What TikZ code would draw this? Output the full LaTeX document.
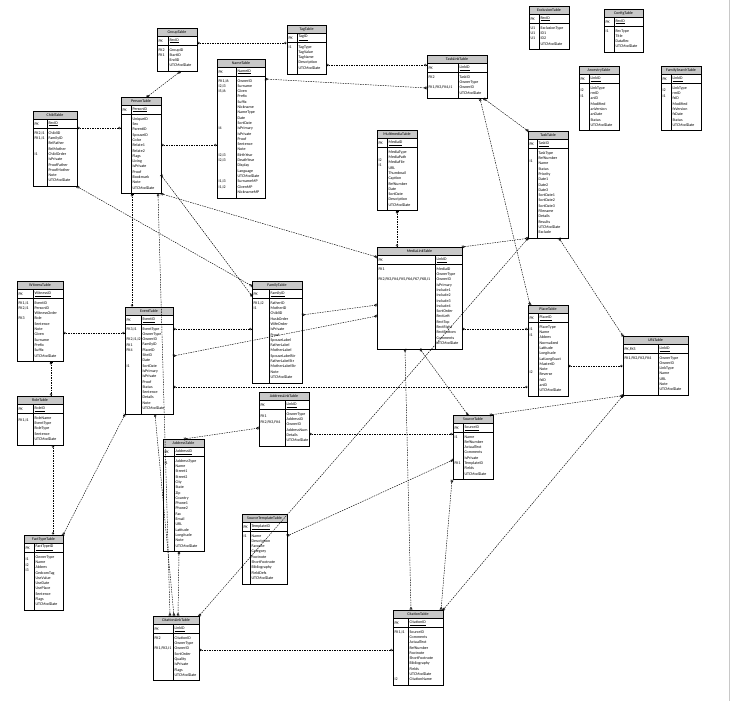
\documentclass[tikz,border=0pt]{standalone}
\usepackage{fontspec}
\setmainfont{Carlito}
\usetikzlibrary{arrows.meta,calc}
\definecolor{hdrgray}{RGB}{200,200,200}
\definecolor{framegray}{RGB}{200,200,200}
\tikzset{
  tblbox/.style={draw=black, line width=0.9pt, fill=white, inner sep=0pt, outer sep=0pt},
  hdrbox/.style={draw=black, line width=0.5pt, fill=hdrgray, inner sep=0pt, outer sep=0pt, font=\fontsize{4}{5}\selectfont},
  celltxt/.style={inner sep=0pt, outer sep=0pt, align=left, font=\fontsize{4}{5.3}\selectfont},
  rel/.style={line width=0.45pt, dash pattern=on 1.5pt off 1pt,
    {Bar[width=3pt,line width=0.45pt]Circle[open,length=2.4pt,width=2.4pt,line width=0.45pt]}-{Circle[open,length=2.4pt,width=2.4pt,line width=0.45pt]Bar[width=3pt,line width=0.45pt]}},
}
\newcommand\erTable[9]{%
  \pgfmathsetmacro\erH{17.5+#6*5.3+5}%
  \node[tblbox, minimum width=#4pt, minimum height=\erH pt, anchor=north west] (#1) at (#2,#3) {};
  \node[hdrbox, minimum width=#4pt, minimum height=8.5pt, anchor=north west] (#1-h) at (#2,#3) {#7};
  \node[celltxt, anchor=west] (#1-pk) at (#2+1.6,#3+13) {#8};
  \node[celltxt, anchor=west] (#1-pf) at (#2+#5+1.6,#3+13) {\underline{#9}};
  \draw[line width=0.5pt] (#2,#3+17.5) -- (#2+#4,#3+17.5);
  \draw[line width=0.5pt] (#2+#5,#3+8.5) -- (#2+#5,#3+\erH);
  \xdef\erX{#2}\xdef\erY{#3}\xdef\erKW{#5}%
}
\newcommand\erBody[3]{%
  \node[celltxt, anchor=north west] (#1-k) at (\erX+1.6,\erY+20.5) {#2};
  \node[celltxt, anchor=north west] (#1-f) at (\erX+\erKW+1.6,\erY+20.5) {#3};
}
\begin{document}
\begin{tikzpicture}[x=1pt,y=-1pt]
\fill[white] (0,0) rectangle (733,701);
\useasboundingbox (0,0) rectangle (733,701);
\draw[framegray, line width=0.6pt] (729.5,0) -- (729.5,701);

\erTable{group}{157}{28}{40}{11}{4}{GroupTable}{PK}{RecID}
\erBody{group}{FK2\\FK1}{GroupID\\StartID\\EndID\\UTCModDate}

\erTable{tag}{287}{25}{39}{10}{5}{TagTable}{PK}{TagID}
\erBody{tag}{I1}{TagType\\TagValue\\TagName\\Description\\UTCModDate}

\erTable{name}{217}{59}{48}{19}{22}{NameTable}{PK}{NameID}
\erBody{name}{FK1,I6\\I2,I3\\I5,I6\\~\\~\\~\\~\\~\\~\\I4\\~\\~\\~\\~\\I2,I3\\I2,I3\\~\\~\\~\\I1,I3\\I1,I2}{OwnerID\\Surname\\Given\\Prefix\\Suffix\\Nickname\\NameType\\Date\\SortDate\\IsPrimary\\IsPrivate\\Proof\\Sentence\\Note\\BirthYear\\DeathYear\\Display\\Language\\UTCModDate\\SurnameMP\\GivenMP\\NicknameMP}

\erTable{exclusion}{529}{6}{40}{10}{4}{ExclusionTable}{PK}{RecID}
\erBody{exclusion}{U1\\U1\\U1}{ExclusionType\\ID1\\ID2\\UTCModDate}

\erTable{config}{604}{9}{39}{10}{4}{ConfigTable}{PK}{RecID}
\erBody{config}{I1}{RecType\\Title\\DataRec\\UTCModDate}

\erTable{tasklink}{427}{55}{60}{31}{4}{TaskLinkTable}{PK}{LinkID}
\erBody{tasklink}{FK2\\~\\FK1,FK3,FK4,I1}{TaskID\\OwnerType\\OwnerID\\UTCModDate}

\erTable{ancestry}{579}{66}{40}{10}{8}{AncestryTable}{PK}{LinkID}
\erBody{ancestry}{~\\I2\\I1}{LinkType\\rmID\\anID\\Modified\\anVersion\\anDate\\Status\\UTCModDate}

\erTable{familysearch}{661}{66}{40}{10}{8}{FamilySearchTable}{PK}{LinkID}
\erBody{familysearch}{~\\I2\\I1}{LinkType\\rmID\\fsID\\Modified\\fsVersion\\fsDate\\Status\\UTCModDate}

\erTable{child}{33}{111}{44}{14}{10}{ChildTable}{PK}{RecID}
\erBody{child}{FK2,I1\\FK1,I1\\~\\~\\I1}{ChildID\\FamilyID\\RelFather\\RelMother\\ChildOrder\\IsPrivate\\ProofFather\\ProofMother\\Note\\UTCModDate}

\erTable{person}{121}{97}{40}{10}{14}{PersonTable}{PK}{PersonID}
\erBody{person}{~}{UniqueID\\Sex\\ParentID\\SpouseID\\Color\\Relate1\\Relate2\\Flags\\Living\\IsPrivate\\Proof\\Bookmark\\Note\\UTCModDate}

\erTable{multimedia}{377}{130}{40}{10}{11}{MultimediaTable}{PK}{MediaID}
\erBody{multimedia}{~\\~\\I2\\I1}{MediaType\\MediaPath\\MediaFile\\URL\\Thumbnail\\Caption\\RefNumber\\Date\\SortDate\\Description\\UTCModDate}

\erTable{task}{528}{131}{40}{9}{16}{TaskTable}{PK}{TaskID}
\erBody{task}{~\\~\\I1}{TaskType\\RefNumber\\Name\\Status\\Priority\\Date1\\Date2\\Date3\\SortDate1\\SortDate2\\SortDate3\\Filename\\Details\\Results\\UTCModDate\\Exclude}

\erTable{medialink}{377}{247}{85}{58}{15}{MediaLinkTable}{PK}{LinkID}
\erBody{medialink}{FK1\\~\\FK2,FK3,FK4,FK5,FK6,FK7,FK8,I1}{MediaID\\OwnerType\\OwnerID\\IsPrimary\\Include1\\Include2\\Include3\\Include4\\SortOrder\\RectLeft\\RectTop\\RectRight\\RectBottom\\Comments\\UTCModDate}

\erTable{witness}{17}{281}{46}{16}{11}{WitnessTable}{PK}{WitnessID}
\erBody{witness}{FK1,I1\\FK2,I1\\~\\FK3}{EventID\\PersonID\\WitnessOrder\\Role\\Sentence\\Note\\Given\\Surname\\Prefix\\Suffix\\UTCModDate}

\erTable{event}{125}{307}{48}{16}{16}{EventTable}{PK}{EventID}
\erBody{event}{FK3,I1\\~\\FK2,I1,I2\\FK1\\FK4\\~\\~\\I1}{EventType\\OwnerType\\OwnerID\\FamilyID\\PlaceID\\SiteID\\Date\\SortDate\\IsPrimary\\IsPrivate\\Proof\\Status\\Sentence\\Details\\Note\\UTCModDate}

\erTable{family}{252}{281}{50}{17}{15}{FamilyTable}{PK}{FamilyID}
\erBody{family}{FK1,I2\\I1}{FatherID\\MotherID\\ChildID\\HusbOrder\\WifeOrder\\IsPrivate\\Proof\\SpouseLabel\\FatherLabel\\MotherLabel\\SpouseLabelStr\\FatherLabelStr\\MotherLabelStr\\Note\\UTCModDate}

\erTable{place}{528}{305}{40}{10}{13}{PlaceTable}{PK}{PlaceID}
\erBody{place}{~\\I1\\I1\\~\\~\\~\\~\\~\\~\\I2}{PlaceType\\Name\\Abbrev\\Normalized\\Latitude\\Longitude\\LatLongExact\\MasterID\\Note\\Reverse\\fsID\\anID\\UTCModDate}

\erTable{url}{623}{336}{65}{35}{7}{URLTable}{PK,FK5}{LinkID}
\erBody{url}{FK1,FK2,FK3,FK4}{OwnerType\\OwnerID\\LinkType\\Name\\URL\\Note\\UTCModDate}

\erTable{role}{17}{396}{46}{16}{5}{RoleTable}{PK}{RoleID}
\erBody{role}{~\\FK1,I1}{RoleName\\EventType\\RoleType\\Sentence\\UTCModDate}

\erTable{addresslink}{259}{392}{50}{26}{6}{AddressLinkTable}{PK}{LinkID}
\erBody{addresslink}{~\\FK1\\FK2,FK3,FK4}{OwnerType\\AddressID\\OwnerID\\AddressNum\\Details\\UTCModDate}

\erTable{address}{163}{439}{41}{11}{17}{AddressTable}{PK}{AddressID}
\erBody{address}{~\\I1}{AddressType\\Name\\Street1\\Street2\\City\\State\\Zip\\Country\\Phone1\\Phone2\\Fax\\Email\\URL\\Latitude\\Longitude\\Note\\UTCModDate}

\erTable{source}{453}{415}{40}{10}{8}{SourceTable}{PK}{SourceID}
\erBody{source}{I1\\~\\~\\~\\~\\FK1}{Name\\RefNumber\\ActualText\\Comments\\IsPrivate\\TemplateID\\Fields\\UTCModDate}

\erTable{sourcetemplate}{242}{514}{45}{8}{9}{SourceTemplateTable}{PK}{TemplateID}
\erBody{sourcetemplate}{I1}{Name\\Description\\Favorite\\Category\\Footnote\\ShortFootnote\\Bibliography\\FieldDefs\\UTCModDate}

\erTable{facttype}{24}{535}{39}{10}{10}{FactTypeTable}{PK}{FactTypeID}
\erBody{facttype}{~\\I1\\I2\\I3}{OwnerType\\Name\\Abbrev\\GedcomTag\\UseValue\\UseDate\\UsePlace\\Sentence\\Flags\\UTCModDate}

\erTable{citationlink}{153}{616}{46}{20}{8}{CitationLinkTable}{PK}{LinkID}
\erBody{citationlink}{FK2\\~\\FK1,FK3,I1}{CitationID\\OwnerType\\OwnerID\\SortOrder\\Quality\\IsPrivate\\Flags\\UTCModDate}

\erTable{citation}{393}{610}{50}{15}{10}{CitationTable}{PK}{CitationID}
\erBody{citation}{FK1,I1\\~\\~\\~\\~\\~\\~\\~\\~\\I2}{SourceID\\Comments\\ActualText\\RefNumber\\Footnote\\ShortFootnote\\Bibliography\\Fields\\UTCModDate\\CitationName}

% connectors
\draw[rel] (group.east |- 0,43) -- (tag.west |- 0,43);
\draw[rel] (group.south -| 180,0) -- (person.north -| 147,0);
\draw[rel] (tag.east |- 0,65) -- (tasklink.west |- 0,65);
\draw[rel] (name.east |- 0,79) -- (tasklink.west |- 0,88);
\draw[rel] (child.east |- 0,128) -- (person.west |- 0,128);
\draw[rel] (person.east |- 0,145) -- (name.west |- 0,145);
\draw[rel] (multimedia.south -| 397,0) -- (medialink.north -| 397,0);
\draw[rel] (tasklink.south -| 484,0) -- (task.north west);
\draw[rel] (tasklink.south -| 480,0) -- (place.north -| 530,0);
\draw[rel] (witness.east |- 0,333) -- (event.west |- 0,333);
\draw[rel] (witness.south -| 51,0) -- (role.north -| 51,0);
\draw[rel] (role.south -| 53,0) -- (facttype.north -| 53,0);
\draw[rel] (event.south west) -- (facttype.north east);
\draw[rel] (event.east |- 0,329) -- (family.west |- 0,329);
\draw[rel] (event.east |- 0,356) -- (medialink.west |- 0,316);
\draw[rel] (event.east |- 0,387) -- (place.west |- 0,387);
\draw[rel] (family.east |- 0,315) -- (medialink.west |- 0,305);
\draw[rel] (child.south east) -- (family.west |- 0,286);
\draw[rel] (person.east |- 0,175) -- (family.west |- 0,296);
\draw[rel] (person.south east) -- (medialink.west |- 0,257);
\draw[rel] (person.south -| 132,0) -- (event.north -| 132,0);
\draw[rel] (person.south -| 158,0) -- (citationlink.north -| 170,0);
\draw[rel] (event.south -| 155,0) -- (citationlink.north -| 174,0);
\draw[rel] (address.south -| 179,0) -- (citationlink.north -| 178,0);
\draw[rel] (address.north -| 184,0) -- (addresslink.west |- 0,428);
\draw[rel] (medialink.east |- 0,329) -- (place.west |- 0,329);
\draw[rel] (place.east |- 0,366) -- (url.west |- 0,366);
\draw[rel] (task.south -| 559,0) -- (url.north west);
\draw[rel] (source.north -| 490,0) -- (url.south west);
\draw[rel] (citation.north east) -- (url.south west);
\draw[rel] (task.south west) -- (citationlink.north east);
\draw[rel] (addresslink.east |- 0,434) -- (source.west |- 0,434);
\draw[rel] (medialink.south -| 420,0) -- (source.north -| 468,0);
\draw[rel] (citationlink.east |- 0,650) -- (citation.west |- 0,650);
\draw[rel] (sourcetemplate.east |- 0,536) -- (source.west |- 0,460);
\draw[rel] (source.south -| 452,0) -- (citation.north -| 441,0);
\draw[rel] (medialink.south -| 405,0) -- (citation.north -| 411,0);
\draw[rel] (medialink.north east) -- (task.south west);
\end{tikzpicture}
\end{document}
